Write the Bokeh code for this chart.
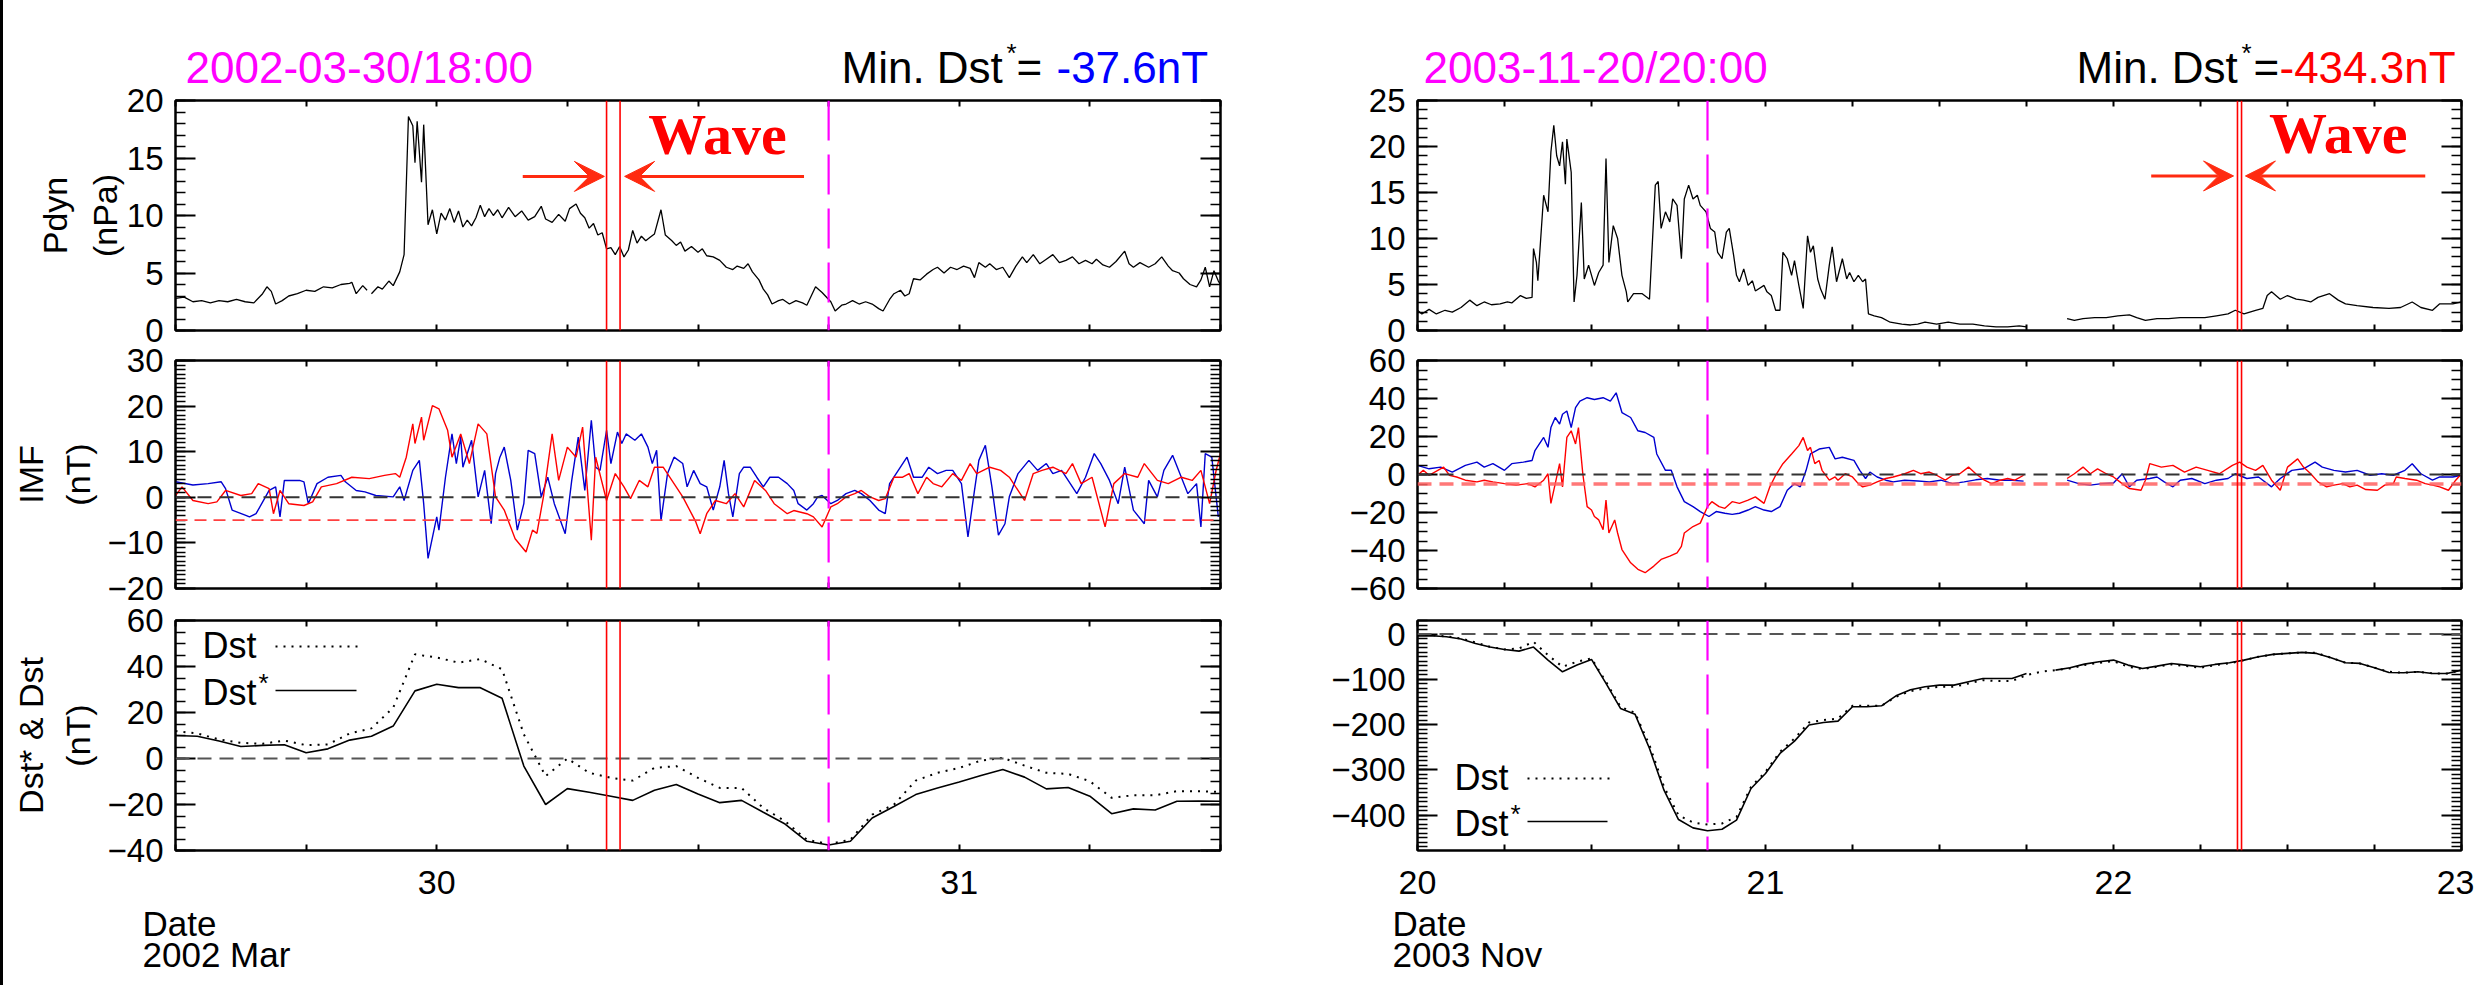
import numpy as np
from bokeh.plotting import figure
from bokeh.layouts import row, column
from bokeh.models import (Range1d, LinearAxis, FixedTicker, CustomJSTickFormatter,
                          Label, Arrow, VeeHead, Span, Spacer, Title)
from bokeh.embed import file_html
from bokeh.resources import INLINE

NaN = float("nan")
FONT = "Liberation Sans"

# ------------------------------------------------------------------ data
# Event 1 : 2002 Mar 29 12:00 -> Mar 31 12:00   (hours from window start)
ev1_start_day = 29.5
ev1_title = "2002-03-30/18:00"
ev1_min = "-37.6nT"
ev1_event_h = 30.0
ev1_wave_h = [19.8, 20.42]

ev1_pdyn = [(0.0, 2.8), (0.4, 2.9), (0.8, 2.5), (1.2, 2.6), (1.6, 2.4), (2.0, 2.6), (2.4, 2.5), (2.8, 2.7),
            (3.2, 2.5), (3.6, 2.4), (4.0, 3.2), (4.2, 3.8), (4.4, 3.4), (4.6, 2.3), (4.9, 2.6), (5.2, 3.0),
            (5.6, 3.2), (6.0, 3.5), (6.4, 3.4), (6.8, 3.8), (7.2, 3.7), (7.6, 4.0), (8.0, 4.1), (8.1, 4.2),
            (8.3, 3.2), (8.6, 3.9), (8.8, 3.5), (8.9, NaN), (9.0, 3.2), (9.3, 3.8), (9.5, 3.6), (9.8, 4.3),
            (10.0, 3.9), (10.3, 5.1), (10.5, 6.6), (10.7, 18.6), (10.9, 17.8), (11.0, 14.6), (11.1, 18.2),
            (11.3, 12.9), (11.4, 17.9), (11.6, 9.2), (11.8, 10.5), (12.0, 8.4), (12.2, 10.2), (12.4, 9.6),
            (12.6, 10.6), (12.8, 9.4), (13.0, 10.4), (13.2, 9.0), (13.4, 9.6), (13.6, 9.1), (13.8, 9.8),
            (14.0, 10.9), (14.2, 9.9), (14.4, 10.6), (14.6, 10.0), (14.8, 10.5), (15.0, 9.8), (15.3, 10.7),
            (15.6, 9.9), (15.9, 10.4), (16.2, 9.6), (16.5, 9.9), (16.8, 10.8), (17.0, 9.7), (17.3, 9.4),
            (17.6, 10.1), (17.9, 9.5), (18.1, 10.6), (18.4, 11.0), (18.6, 10.2), (18.8, 9.8), (19.0, 8.9),
            (19.2, 9.3), (19.4, 8.3), (19.6, 8.5), (19.8, 7.1), (20.0, 7.2), (20.2, 6.6), (20.4, 7.3),
            (20.6, 6.4), (20.8, 7.0), (21.0, 8.7), (21.2, 7.6), (21.4, 8.2), (21.6, 7.8), (21.8, 8.1),
            (22.0, 8.4), (22.3, 10.5), (22.5, 8.3), (22.8, 7.8), (23.0, 7.4), (23.2, 7.7), (23.4, 6.9),
            (23.7, 7.3), (24.0, 6.8), (24.2, 7.1), (24.4, 6.5), (24.7, 6.4), (25.0, 6.1), (25.3, 5.5),
            (25.6, 5.3), (25.8, 5.6), (26.1, 5.4), (26.3, 5.8), (26.5, 5.1), (26.8, 4.4), (27.0, 3.6),
            (27.2, 3.1), (27.4, 2.3), (27.7, 2.6), (27.9, 2.7), (28.2, 2.3), (28.5, 2.6), (28.8, 2.4),
            (29.0, 2.2), (29.2, 3.0), (29.4, 3.8), (29.7, 3.3), (30.1, 2.5), (30.3, 1.7), (30.6, 2.2),
            (30.8, 2.3), (31.1, 2.6), (31.4, 2.3), (31.7, 2.5), (32.0, 2.3), (32.3, 1.9), (32.5, 1.7),
            (32.8, 2.7), (33.0, 3.2), (33.3, 3.5), (33.5, 3.0), (33.7, 3.2), (33.9, 4.5), (34.2, 4.4),
            (34.5, 4.9), (34.8, 5.3), (35.0, 5.5), (35.3, 5.0), (35.6, 5.5), (35.9, 5.3), (36.2, 5.6),
            (36.5, 5.4), (36.7, 4.6), (36.9, 5.9), (37.2, 5.5), (37.4, 5.8), (37.7, 5.3), (38.0, 5.5),
            (38.3, 4.6), (38.6, 5.6), (38.9, 6.4), (39.1, 5.9), (39.4, 6.6), (39.7, 5.8), (40.0, 6.2),
            (40.3, 6.6), (40.6, 5.9), (40.9, 6.1), (41.2, 6.4), (41.5, 5.8), (41.8, 6.1), (42.1, 5.8),
            (42.3, 6.2), (42.6, 5.7), (42.9, 5.5), (43.2, 6.0), (43.6, 6.9), (43.8, 5.8), (44.0, 5.5),
            (44.3, 5.9), (44.7, 5.5), (45.0, 5.8), (45.3, 6.4), (45.6, 5.6), (45.8, 5.2), (46.1, 5.0),
            (46.3, 4.5), (46.6, 4.0), (46.9, 3.8), (47.1, 4.4), (47.3, 5.5), (47.5, 3.8), (47.7, 5.2),
            (47.9, 4.3), (48.0, 4.0)]

ev1_imf_blue = [(0.0, 3.4), (0.8, 2.7), (1.5, 3.0), (2.1, 3.4), (2.3, 1.9), (2.6, -2.8), (3.2, -3.9),
                (3.4, -4.3), (3.7, -3.6), (4.3, 1.5), (4.6, 2.3), (4.8, -4.3), (5.0, 3.7), (5.7, 3.7),
                (5.9, 3.4), (6.1, -1.4), (6.5, 3.0), (7.0, 4.4), (7.6, 4.8), (7.8, 3.4), (8.3, 1.5),
                (8.7, 1.2), (9.2, 0.4), (10.0, 0.1), (10.3, 2.3), (10.5, -0.7), (10.9, 5.9), (11.2, 8.1),
                (11.4, -1.4), (11.6, -13.4), (12.0, -4.3), (12.1, -7.2), (12.4, 4.4), (12.7, 13.9),
                (12.9, 7.4), (13.1, 13.2), (13.2, 6.6), (13.6, 12.5), (13.9, 0.1), (14.2, 5.9), (14.5, -5.8),
                (14.7, 5.2), (14.9, 8.8), (15.1, 11.0), (15.4, 3.7), (15.7, -7.2), (16.0, -1.4), (16.2, 10.3),
                (16.5, 9.6), (16.8, 0.1), (17.1, 4.4), (17.4, -1.4), (17.9, -8.0), (18.2, 3.7), (18.5, 13.2),
                (18.8, 1.5), (19.1, 16.9), (19.3, 6.6), (19.5, 5.9), (19.8, 14.7), (20.0, 7.4), (20.3, 14.3),
                (20.5, 11.8), (20.7, 13.9), (21.1, 12.5), (21.4, 13.9), (21.7, 11.0), (21.9, 7.4),
                (22.1, 10.3), (22.3, -5.1), (22.6, 5.2), (22.9, 8.8), (23.3, 7.4), (23.5, 2.3), (23.8, 5.9),
                (24.1, 3.0), (24.4, 2.3), (24.7, -2.8), (25.0, 2.3), (25.2, 8.1), (25.4, 0.8), (25.6, -4.3),
                (25.9, 5.2), (26.1, 6.6), (26.4, 6.6), (26.7, 4.4), (27.0, 2.3), (27.3, 4.4), (27.7, 4.4),
                (28.1, 3.0), (28.4, 1.5), (28.6, -1.4), (29.0, -2.8), (29.3, -1.4), (29.5, 0.1), (29.7, 0.4),
                (30.1, -1.4), (30.4, -0.7), (30.8, 0.8), (31.2, 1.5), (31.5, 0.8), (31.9, -0.7), (32.3, -2.8),
                (32.6, -3.6), (32.8, 3.0), (33.2, 5.9), (33.6, 8.8), (33.9, 4.4), (34.3, 4.4), (34.6, 6.6),
                (35.0, 5.2), (35.4, 5.9), (35.7, 5.9), (36.1, 3.0), (36.4, -8.7), (36.7, 1.5), (36.9, 8.1),
                (37.2, 11.4), (37.5, 2.3), (37.8, -8.3), (38.1, -5.8), (38.3, 0.1), (38.7, 5.2), (39.2, 8.1),
                (39.6, 5.9), (40.0, 7.4), (40.3, 5.2), (40.7, 5.9), (41.1, 3.0), (41.4, 0.8), (41.8, 4.4),
                (42.2, 9.6), (42.5, 7.4), (42.9, 3.7), (43.3, -1.4), (43.6, 6.6), (44.0, -2.8), (44.5, -5.8),
                (44.7, 3.7), (45.1, 0.1), (45.4, 5.9), (45.8, 9.2), (46.2, 4.4), (46.5, 0.8), (46.9, 3.0),
                (47.1, -6.5), (47.3, 9.6), (47.6, 8.8), (47.9, -4.3)]

ev1_imf_red = [(0.0, 0.4), (0.3, 2.3), (0.8, -0.7), (1.5, -1.4), (1.9, -1.0), (2.3, 1.5), (3.0, 0.4),
               (3.5, 0.8), (3.8, 3.0), (4.3, 1.9), (4.5, -3.6), (4.8, 1.5), (5.2, -1.4), (5.9, -1.8),
               (6.3, -1.0), (6.7, 2.3), (7.4, 3.0), (8.1, 4.4), (8.9, 4.1), (9.6, 4.8), (10.1, 5.2),
               (10.3, 4.4), (10.6, 8.8), (10.9, 16.1), (11.0, 11.8), (11.3, 17.6), (11.4, 12.5), (11.8, 20.1),
               (12.1, 19.4), (12.5, 14.7), (12.7, 8.8), (13.1, 13.9), (13.5, 7.4), (13.9, 16.1), (14.3, 13.9),
               (14.7, 0.1), (15.1, -2.8), (15.6, -9.1), (16.1, -12.0), (16.4, -7.2), (16.6, -7.9), (16.9, 0.1),
               (17.3, 13.9), (17.6, 3.7), (18.0, 11.0), (18.4, 8.8), (18.7, 15.4), (19.1, -9.4), (19.3, 8.8),
               (19.8, -0.7), (20.2, 5.2), (20.6, 2.3), (20.9, -0.3), (21.3, 3.7), (21.7, 2.3), (22.0, 6.6),
               (22.4, 6.6), (22.8, 3.7), (23.3, 0.1), (23.9, -5.4), (24.1, -8.0), (24.4, -3.6), (24.8, -0.7),
               (25.3, -1.4), (25.7, 0.8), (26.1, -2.1), (26.6, 3.7), (27.1, 1.5), (27.5, -1.4), (28.1, -3.6),
               (28.4, -2.9), (29.0, -3.6), (29.3, -4.3), (29.7, -6.5), (30.1, -2.1), (30.4, -1.4), (30.8, 0.1),
               (31.2, 0.8), (31.5, 1.5), (31.9, 0.1), (32.3, -0.7), (32.6, -0.3), (33.0, 4.4), (33.4, 4.4),
               (33.7, 5.2), (34.1, 0.8), (34.5, 4.4), (34.8, 3.0), (35.2, 2.3), (35.7, 5.2), (36.1, 3.7),
               (36.5, 7.4), (36.8, 5.2), (37.4, 6.6), (37.9, 5.9), (38.3, 4.4), (38.7, 1.5), (39.0, -0.7),
               (39.4, 5.2), (39.8, 5.9), (40.3, 6.6), (40.9, 5.2), (41.2, 7.4), (41.6, 3.0), (42.1, 4.4),
               (42.7, -6.5), (43.1, 3.0), (43.6, 5.2), (44.2, 4.4), (44.5, 7.4), (45.1, 3.7), (45.6, 3.0),
               (46.2, 4.4), (46.7, 3.7), (47.1, 5.9), (47.5, -1.4), (47.8, 5.9), (48.0, 9.6)]

# hourly values, hour 0 .. 48
ev1_dst_star = [10.0, 9.7, 7.6, 5.2, 5.7, 6.0, 2.5, 4.2, 8.0, 9.7, 14.1, 29.4, 32.3, 30.8, 30.8, 26.2,
                -3.3, -20.0, -13.1, -14.7, -16.4, -18.2, -13.8, -11.3, -15.4, -19.2, -18.2, -23.4, -28.5,
                -36.0, -37.6, -36.0, -25.9, -20.9, -15.7, -12.8, -10.2, -7.4, -4.8, -8.1, -13.2, -12.6,
                -16.4, -24.0, -21.9, -22.4, -18.6, -18.5, -18.6]
ev1_dst = [11.9, 10.9, 8.3, 6.8, 6.4, 7.8, 5.8, 6.1, 10.9, 13.1, 22.1, 45.3, 43.9, 41.7, 43.2, 38.8,
           10.5, -7.7, 0.0, -6.2, -8.4, -9.6, -4.1, -3.3, -8.4, -12.8, -12.8, -21.5, -27.3, -35.3,
           -37.2, -35.3, -24.4, -20.1, -9.6, -6.2, -4.1, -0.9, 0.3, -3.1, -6.2, -6.7, -9.9, -17.1,
           -16.0, -16.0, -14.2, -14.2, -14.5]

# Event 2 : 2003 Nov 20 00:00 -> Nov 23 00:00
ev2_start_day = 20.0
ev2_title = "2003-11-20/20:00"
ev2_min = "-434.3nT"
ev2_event_h = 20.0
ev2_wave_h = [56.55, 56.83]

ev2_pdyn = [(0.0, 2.2), (0.3, 1.8), (0.8, 2.3), (1.3, 1.8), (1.9, 2.2), (2.4, 2.0), (3.0, 2.5), (3.6, 3.3),
            (4.1, 2.7), (4.6, 3.1), (5.1, 2.8), (5.7, 2.9), (6.2, 3.1), (6.5, 3.0), (7.1, 3.8), (7.5, 3.5),
            (7.9, 3.6), (8.0, 8.9), (8.2, 7.4), (8.3, 5.4), (8.7, 14.7), (9.0, 12.9), (9.2, 19.4),
            (9.4, 22.3), (9.6, 19.0), (9.8, 17.9), (10.0, 20.5), (10.2, 15.9), (10.3, 20.8), (10.6, 17.2),
            (10.8, 3.1), (11.0, 6.0), (11.3, 13.9), (11.5, 5.6), (11.8, 7.1), (12.2, 4.9), (12.5, 6.3),
            (12.8, 7.1), (13.0, 18.7), (13.2, 7.4), (13.5, 11.4), (13.8, 10.0), (14.1, 6.0), (14.4, 4.2),
            (14.5, 3.1), (14.9, 4.0), (15.5, 4.0), (16.0, 3.4), (16.4, 15.8), (16.6, 16.2), (16.8, 11.1),
            (17.1, 12.9), (17.4, 11.8), (17.6, 14.3), (17.9, 13.6), (18.2, 7.8), (18.4, 14.3), (18.7, 15.8),
            (19.0, 14.3), (19.3, 14.7), (19.5, 13.6), (19.9, 12.9), (20.2, 11.1), (20.5, 10.7), (20.7, 8.5),
            (21.0, 7.8), (21.3, 10.7), (21.5, 11.1), (21.8, 8.2), (22.0, 6.0), (22.2, 5.3), (22.5, 6.7),
            (22.8, 4.9), (23.1, 5.4), (23.3, 4.3), (23.9, 4.9), (24.1, 4.2), (24.4, 3.8), (24.7, 2.2),
            (25.0, 2.2), (25.2, 8.5), (25.5, 7.8), (25.8, 6.0), (26.0, 7.6), (26.3, 4.9), (26.6, 2.4),
            (26.9, 10.3), (27.1, 8.5), (27.3, 9.2), (27.6, 5.6), (27.8, 4.5), (28.1, 3.4), (28.4, 7.1),
            (28.6, 9.1), (28.9, 5.3), (29.3, 7.8), (29.6, 5.6), (29.8, 6.3), (30.1, 5.3), (30.4, 6.0),
            (30.7, 5.3), (30.9, 5.6), (31.1, 1.8), (31.5, 1.6), (32.0, 1.4), (32.6, 0.9), (33.4, 0.7),
            (34.0, 0.6), (34.5, 0.7), (35.0, 0.9), (35.8, 0.7), (36.6, 0.9), (37.4, 0.7), (38.3, 0.7),
            (39.1, 0.5), (39.9, 0.4), (40.7, 0.4), (41.5, 0.5), (42.0, 0.4), (43.0, NaN), (44.8, 1.3),
            (45.3, 1.1), (45.9, 1.3), (46.7, 1.4), (47.5, 1.4), (48.3, 1.6), (49.1, 1.7), (49.6, 1.4),
            (50.2, 1.1), (51.0, 1.3), (51.8, 1.3), (52.6, 1.4), (53.4, 1.4), (54.3, 1.4), (55.1, 1.6),
            (55.9, 1.8), (56.4, 2.2), (57.0, 1.8), (57.8, 2.2), (58.3, 2.4), (58.6, 3.8), (58.9, 4.2),
            (59.5, 3.4), (60.0, 3.8), (60.6, 3.4), (61.1, 3.3), (61.6, 3.1), (62.1, 3.6), (62.9, 4.0),
            (63.5, 3.3), (64.0, 2.9), (64.8, 2.7), (65.9, 2.5), (67.0, 2.4), (67.8, 2.5), (68.6, 3.1),
            (69.2, 2.5), (70.0, 2.2), (70.5, 2.9), (71.4, 2.9), (72.0, 3.1)]

ev2_imf_blue = [(0.0, 4.8), (0.8, 3.0), (1.6, 3.9), (2.4, 1.3), (3.3, 4.8), (4.1, 6.5), (4.6, 3.9), (5.2, 5.7),
                (6.0, 2.2), (6.5, 5.7), (7.3, 6.5), (7.9, 7.4), (8.1, 12.6), (8.7, 19.5), (9.0, 14.3),
                (9.2, 24.7), (9.5, 30.0), (9.8, 26.5), (10.0, 31.7), (10.3, 33.4), (10.6, 24.7), (10.9, 35.2),
                (11.2, 38.6), (11.7, 40.4), (12.2, 39.5), (12.8, 40.4), (13.3, 38.6), (13.7, 43.0), (14.1, 32.6),
                (14.7, 30.0), (15.2, 23.0), (15.7, 22.1), (16.3, 19.5), (16.5, 10.8), (17.1, 2.2), (17.5, 2.2),
                (17.9, -6.5), (18.4, -14.3), (19.0, -16.9), (19.5, -19.5), (20.1, -22.1), (20.6, -19.5),
                (21.2, -20.4), (21.7, -21.0), (22.2, -20.4), (22.8, -18.7), (23.3, -16.9), (23.9, -18.7),
                (24.4, -19.5), (25.0, -16.9), (25.5, -8.3), (26.0, -4.8), (26.4, -6.5), (26.8, 2.2),
                (27.1, 10.8), (27.7, 13.4), (28.4, 14.3), (28.8, 8.2), (29.3, 9.1), (30.1, 7.4), (30.5, 2.2),
                (30.9, -2.1), (31.2, 1.3), (31.7, -1.3), (32.3, -3.0), (32.8, -3.9), (33.6, -3.0),
                (34.5, -3.4), (35.3, -3.9), (36.1, -3.0), (36.9, -4.8), (37.7, -3.9), (38.5, -2.8),
                (39.3, -2.1), (40.2, -3.0), (41.0, -3.0), (41.8, -3.5), (43.0, NaN), (44.8, -3.0),
                (45.6, -4.8), (46.4, -5.6), (47.2, -4.8), (48.0, -4.5), (48.6, 0.4), (49.1, -6.5),
                (49.6, -3.0), (50.5, -2.1), (51.0, -1.3), (51.5, -3.9), (52.1, -6.5), (52.6, -3.0),
                (53.4, -2.1), (54.3, -4.8), (55.1, -3.0), (55.9, -2.1), (56.4, 0.4), (57.2, -2.1),
                (58.0, -1.3), (58.9, -6.5), (59.5, -2.1), (60.3, 2.2), (61.1, 3.0), (61.9, 6.5), (62.4, 3.9),
                (63.2, 2.2), (64.0, 1.3), (64.8, 2.2), (65.7, -0.4), (66.5, 0.4), (67.3, -0.4), (68.1, 2.2),
                (68.6, 5.7), (69.2, 0.4), (70.0, -3.0), (70.5, -1.3), (71.4, -1.3), (72.0, -0.4)]

ev2_imf_red = [(0.0, -0.4), (0.4, 2.2), (0.8, -0.4), (1.4, 2.2), (1.8, 3.9), (2.2, -0.4), (2.7, -1.3),
               (3.3, -3.0), (4.1, -3.9), (4.6, -3.0), (5.2, -3.9), (6.0, -4.8), (6.8, -5.6), (7.6, -4.8),
               (8.1, -6.5), (8.7, -3.0), (9.0, 0.4), (9.2, -15.2), (9.5, -4.8), (9.8, 5.7), (10.0, -6.5),
               (10.3, 19.5), (10.6, 23.0), (10.9, 16.1), (11.1, 24.7), (11.4, 0.4), (11.7, -16.9),
               (12.0, -18.7), (12.2, -22.1), (12.5, -23.9), (12.8, -29.1), (13.0, -13.5), (13.2, -30.8),
               (13.6, -23.9), (13.8, -30.8), (14.1, -39.5), (14.7, -46.5), (15.2, -49.9), (15.7, -51.7),
               (16.3, -48.2), (16.8, -44.7), (17.4, -43.0), (17.9, -41.2), (18.2, -37.8), (18.4, -30.8),
               (19.0, -27.4), (19.5, -25.6), (20.0, -16.9), (20.3, -14.3), (20.8, -16.9), (21.2, -17.8),
               (21.7, -14.3), (22.2, -15.2), (22.8, -13.5), (23.3, -11.8), (23.9, -15.2), (24.3, -6.5),
               (24.7, -0.4), (25.2, 5.7), (25.8, 10.8), (26.3, 15.2), (26.6, 19.5), (26.9, 12.6),
               (27.1, 14.3), (27.4, 5.7), (27.7, 7.4), (27.9, 2.2), (28.4, -3.0), (28.8, -1.3), (29.0, -3.0),
               (29.5, 0.4), (30.0, -1.3), (30.4, -4.8), (30.7, -6.5), (31.2, -5.6), (31.7, -3.9),
               (32.3, -2.1), (32.8, -1.3), (33.6, 0.4), (34.2, 2.2), (34.7, 0.4), (35.3, 1.3), (35.8, -0.4),
               (36.4, -3.0), (36.9, -0.4), (37.4, 0.4), (38.0, 3.9), (38.5, 0.4), (39.1, -3.0), (39.6, -4.8),
               (40.2, -3.0), (40.7, -2.1), (41.2, -3.0), (41.8, -0.4), (43.0, NaN), (44.8, -2.1), (45.3, 0.4),
               (45.9, 3.9), (46.4, 0.4), (46.9, 3.0), (47.5, 0.4), (48.0, -1.3), (48.6, -4.8), (49.1, -7.4),
               (49.9, -8.3), (50.2, -3.0), (50.5, 5.7), (51.3, 3.9), (52.1, 4.8), (52.9, 1.3), (53.7, 3.9),
               (54.5, 2.2), (55.3, 0.4), (56.2, 4.8), (56.7, 6.5), (57.2, 3.9), (57.8, 2.2), (58.3, 4.8),
               (58.9, -3.0), (59.5, -8.3), (60.0, 3.9), (60.7, 8.2), (61.1, 3.9), (61.6, 0.4), (62.1, -3.9),
               (62.7, -6.5), (63.2, -5.6), (63.8, -4.8), (64.3, -6.5), (64.8, -5.6), (65.4, -7.9),
               (66.2, -8.3), (66.7, -5.6), (67.3, -4.8), (67.5, -1.3), (68.1, -2.1), (68.9, -3.0),
               (69.5, -4.8), (70.0, -5.6), (70.5, -6.5), (71.1, -8.3), (71.6, -3.0), (72.0, 0.4)]

# hourly values, hour 0 .. 72
ev2_dst_star = [-4.4, -3.7, -5.9, -11.0, -20.6, -28.7, -33.9, -37.6, -28.7, -57.5, -83.2, -68.5, -56.0,
                -109.0, -164.3, -176.8, -252.7, -344.8, -409.6, -428.0, -434.3, -431.0, -411.0, -341.0,
                -308.0, -263.7, -236.5, -201.0, -195.2, -192.3, -160.6, -160.6, -158.4, -136.3, -123.0,
                -116.4, -112.7, -112.7, -105.3, -98.0, -98.0, -98.0, -86.9, NaN, -79.6, -74.4, -66.3,
                -61.1, -57.5, -68.5, -75.9, -70.7, -64.8, -68.5, -72.2, -67.0, -63.4, -57.5, -50.1, -44.9,
                -42.7, -40.5, -42.7, -52.3, -63.4, -64.8, -74.4, -84.7, -85.5, -83.2, -86.9, -86.9, -79.6]
ev2_dst = [-2.2, -2.2, -5.2, -9.6, -18.4, -28.0, -33.9, -31.7, -17.0, -46.4, -72.2, -61.0, -53.8, -105.3,
           -160.6, -173.8, -245.3, -337.4, -400.0, -416.2, -420.6, -418.4, -403.7, -337.4, -304.2, -260.0,
           -230.6, -195.2, -190.0, -186.4, -158.4, -158.4, -158.4, -138.5, -126.0, -120.1, -116.4, -116.4,
           -109.0, -101.7, -103.9, -103.9, -90.6, -83.2, -79.6, -75.9, -68.5, -63.4, -59.7, -72.2, -77.3,
           -72.2, -67.0, -70.7, -74.4, -68.5, -64.8, -57.5, -50.1, -44.9, -42.7, -40.5, -41.5, -52.3,
           -63.4, -64.8, -74.4, -83.2, -85.5, -83.2, -86.9, -86.9, -79.6]

# axis ranges / ticks
ev1_ranges = dict(x=(29.5, 31.5), pdyn=(0, 20), imf=(-20, 30), dst=(-40, 60))
ev2_ranges = dict(x=(20.0, 23.0), pdyn=(0, 25), imf=(-60, 60), dst=(-478, 30))
ev1_yticks = dict(pdyn=(5, 1), imf=(10, 1), dst=(20, 5))
ev2_yticks = dict(pdyn=(5, 1), imf=(20, 5), dst=(100, 10))

# y-axis titles: (outer line, inner line)
ylabels_text = [("Pdyn", "(nPa)"), ("IMF", "(nT)"), ("Dst* & Dst", "(nT)")]
# (inner standoff, outer standoff) for the two title lines
ylabel_standoffs = [(0, 20), (15, 0), (15, 0)]

# wave annotation (hours from start)
ev1_wave_ann = dict(y=13.4, left=(15.95, 19.7), right=(28.87, 20.63), text_h=24.9, text_y=15.65)
ev2_wave_ann = dict(y=16.8, left=(50.6, 56.28), right=(69.5, 57.1), text_h=63.5, text_y=19.6)

# ------------------------------------------------------------------ layout constants
HEAD_H = 88
FH = [230, 228, 230]
BT = [12, 15, 16]
BB = [15, 16, 135]
BASE_SHIFT = 0.28   # em fraction to place an alphabetic baseline exactly
BLANK = "return '';"
DAYFMT = "const r = Math.round(tick); return Math.abs(tick - r) < 1e-6 ? String(r) : '';"


def unzip(pairs):
    h = np.array([a for a, b in pairs], dtype=float)
    v = np.array([b for a, b in pairs], dtype=float)
    return h, v


def ticks(lo, hi, step):
    n0 = int(np.ceil(lo / step - 1e-9))
    n1 = int(np.floor(hi / step + 1e-9))
    return [k * step for k in range(n0, n1 + 1)]


def style_axis(ax, labels, tin, tmin):
    ax.axis_line_color = "black"
    ax.axis_line_width = 2
    ax.major_tick_in = tin
    ax.major_tick_out = 0
    ax.minor_tick_in = tmin
    ax.minor_tick_out = 0
    ax.major_tick_line_color = "black"
    ax.major_tick_line_width = 2
    ax.minor_tick_line_color = "black"
    ax.minor_tick_line_width = 1.5
    if labels:
        ax.major_label_text_font = FONT
        ax.major_label_text_font_size = "33px"
        ax.major_label_text_color = "black"
    else:
        ax.formatter = CustomJSTickFormatter(code=BLANK)
        ax.major_label_text_font_size = "0px"
        ax.major_label_standoff = 0


def side_title(text, standoff):
    return Title(text=text, align="center", vertical_align="bottom", standoff=standoff,
                 text_font=FONT, text_font_size="34px", text_font_style="normal", text_color="black")


def panel(i, xr, yr, ystep, xticks, fw, bl, br, ylabel, xlabels):
    p = figure(frame_width=fw, frame_height=FH[i], x_range=Range1d(*xr), y_range=Range1d(*yr),
               x_axis_type=None, y_axis_type=None, title=None, toolbar_location=None,
               output_backend="svg", min_border_left=bl, min_border_right=br,
               min_border_top=BT[i], min_border_bottom=BB[i])
    p.outline_line_color = "black"
    p.outline_line_width = 2
    p.background_fill_color = "white"
    p.border_fill_color = "white"
    maj, mnr = ystep
    yt = FixedTicker(ticks=ticks(yr[0], yr[1], maj), minor_ticks=ticks(yr[0], yr[1], mnr))
    xt = FixedTicker(ticks=xticks, minor_ticks=[])

    left = LinearAxis(ticker=yt)
    style_axis(left, True, 20, 10)
    left.major_label_standoff = 12
    p.add_layout(left, "left")
    if ylabel:
        outer, inner = ylabel
        s_in, s_out = ylabel_standoffs[i]
        p.add_layout(side_title(inner, s_in), "left")
        p.add_layout(side_title(outer, s_out), "left")
    right = LinearAxis(ticker=yt)
    style_axis(right, False, 20, 10)
    below = LinearAxis(ticker=xt)
    if xlabels:
        style_axis(below, True, 6, 0)
        below.formatter = CustomJSTickFormatter(code=DAYFMT)
        below.major_label_standoff = 20
        below.major_label_text_font_size = "34px"
    else:
        style_axis(below, False, 6, 0)
    above = LinearAxis(ticker=xt)
    style_axis(above, False, 6, 0)
    p.add_layout(right, "right")
    p.add_layout(below, "below")
    p.add_layout(above, "above")
    return p


def header_fig(fw, bl, br):
    p = figure(frame_width=fw, frame_height=HEAD_H, x_range=Range1d(0, 1), y_range=Range1d(0, 1),
               x_axis_type=None, y_axis_type=None, title=None, toolbar_location=None,
               output_backend="svg", min_border_left=bl, min_border_right=br,
               min_border_top=0, min_border_bottom=0)
    p.outline_line_color = None
    p.background_fill_color = "white"
    p.border_fill_color = "white"
    return p


def slabel(p, x, y, text, size, color="black", font=FONT, style="normal"):
    p.add_layout(Label(x=x, y=y, x_units="screen", y_units="screen", text=text, text_font=font,
                       text_font_size=f"{size}px", text_color=color, text_font_style=style,
                       text_align="left", text_baseline="alphabetic", y_offset=BASE_SHIFT * size))


def build_column(ev, fw, bl, br, with_ylabels, title_pos, legend_pos, date_off, date_text, min_color, thick_red):
    (start, title, minval, ev_h, wave_h, pdyn, blue, red, dst_star, dst, rng, ytk, wann) = ev
    xr = rng["x"]
    xticks = [xr[0] + k * 0.25 for k in range(int(round((xr[1] - xr[0]) / 0.25)) + 1)]
    yl = ylabels_text if with_ylabels else [None, None, None]

    head = header_fig(fw, bl, br)
    p1 = panel(0, xr, rng["pdyn"], ytk["pdyn"], xticks, fw, bl, br, yl[0], False)
    p2 = panel(1, xr, rng["imf"], ytk["imf"], xticks, fw, bl, br, yl[1], False)
    p3 = panel(2, xr, rng["dst"], ytk["dst"], xticks, fw, bl, br, yl[2], True)

    # Pdyn
    h, v = unzip(pdyn)
    p1.line(start + h / 24.0, v, line_color="black", line_width=1.3)
    # IMF
    p2.add_layout(Span(location=0, dimension="width", line_color="#333333", line_width=2, line_dash="14 8"))
    if thick_red:
        p2.add_layout(Span(location=-5, dimension="width", line_color="#FF6060", line_alpha=0.85,
                           line_width=3.5, line_dash="14 8"))
    else:
        p2.add_layout(Span(location=-5, dimension="width", line_color="#FF4040", line_width=1.6,
                           line_dash="12 7"))
    h, v = unzip(blue)
    p2.line(start + h / 24.0, v, line_color="#0000D0", line_width=1.4)
    h, v = unzip(red)
    p2.line(start + h / 24.0, v, line_color="#FF0000", line_width=1.4)
    # Dst
    p3.add_layout(Span(location=0, dimension="width", line_color="#555555", line_width=2, line_dash="14 8"))
    hh = np.arange(len(dst), dtype=float)
    p3.line(start + hh / 24.0, np.array(dst, dtype=float), line_color="black", line_width=2,
            line_dash="2 6")
    hh = np.arange(len(dst_star), dtype=float)
    p3.line(start + hh / 24.0, np.array(dst_star, dtype=float), line_color="black", line_width=1.6)

    # vertical marker lines in every panel
    for p in (p1, p2, p3):
        for wh in wave_h:
            p.add_layout(Span(location=start + wh / 24.0, dimension="height", line_color="#FF0000",
                              line_width=1.6))
        p.add_layout(Span(location=start + ev_h / 24.0, dimension="height", line_color="#FF00FF",
                          line_width=2.2, line_dash="40 14"))

    # Wave annotation
    c = "#FF2A10"
    for a0, a1 in (wann["left"], wann["right"]):
        p1.add_layout(Arrow(end=VeeHead(size=30, fill_color=c, line_color=c, line_width=1),
                            x_start=start + a0 / 24.0, y_start=wann["y"], x_end=start + a1 / 24.0,
                            y_end=wann["y"], line_color=c, line_width=3))
    p1.add_layout(Label(x=start + wann["text_h"] / 24.0, y=wann["text_y"], text="Wave",
                        text_font="Liberation Serif", text_font_style="bold", text_font_size="58px",
                        text_color="#FF0000", text_align="center", text_baseline="alphabetic",
                        y_offset=BASE_SHIFT * 58))

    # titles (header strip, frame aligned with the panels)
    tx, mx, sx, ex, vx = title_pos
    ty = 9
    slabel(head, tx, ty, title, 44, color="#FF00FF")
    slabel(head, mx, ty, "Min. Dst", 44)
    slabel(head, sx, ty + 19, "*", 26)
    slabel(head, ex, ty, "=", 44)
    slabel(head, vx, ty, minval, 44, color=min_color)

    # legend in the Dst panel
    lx, ly1, ly2, sx0, sx1 = legend_pos
    slabel(p3, lx, ly1, "Dst", 36)
    p3.add_layout(Arrow(start=None, end=None, x_start=sx0, y_start=ly1 + 9, x_end=sx1, y_end=ly1 + 9,
                        start_units="screen", end_units="screen", line_color="black",
                        line_width=2, line_dash="2 6"))
    slabel(p3, lx, ly2, "Dst", 36)
    slabel(p3, lx + 56, ly2 + 12, "*", 26)
    p3.add_layout(Arrow(start=None, end=None, x_start=sx0, y_start=ly2 + 12, x_end=sx1 - 4,
                        y_end=ly2 + 12, start_units="screen", end_units="screen", line_color="black",
                        line_width=1.6))

    # date caption below the time axis
    p3.add_layout(Title(text="Date\n" + date_text, align="left", offset=date_off, vertical_align="top",
                        standoff=14, text_font=FONT, text_font_size="35px", text_font_style="normal",
                        text_color="black", text_line_height=0.8), "below")
    return column(head, p1, p2, p3)


ev1 = (ev1_start_day, ev1_title, ev1_min, ev1_event_h, ev1_wave_h, ev1_pdyn, ev1_imf_blue, ev1_imf_red,
       ev1_dst_star, ev1_dst, ev1_ranges, ev1_yticks, ev1_wave_ann)
ev2 = (ev2_start_day, ev2_title, ev2_min, ev2_event_h, ev2_wave_h, ev2_pdyn, ev2_imf_blue, ev2_imf_red,
       ev2_dst_star, ev2_dst, ev2_ranges, ev2_yticks, ev2_wave_ann)

col1 = build_column(ev1, 1045, 172, 20, True, (10, 666, 831, 841, 881), (27, 195, 148, 100, 185),
                    -33, "2002 Mar", "#0000FF", False)
col2 = build_column(ev2, 1044, 177, 13, False, (6, 659, 824, 836, 862), (37, 63, 17, 110, 194),
                    -25, "2003 Nov", "#FF0000", True)

bar = Spacer(width=3, height=985, styles={"background-color": "black"})
layout = row(bar, col1, col2)

open("out.html", "w").write(file_html(layout, INLINE))
